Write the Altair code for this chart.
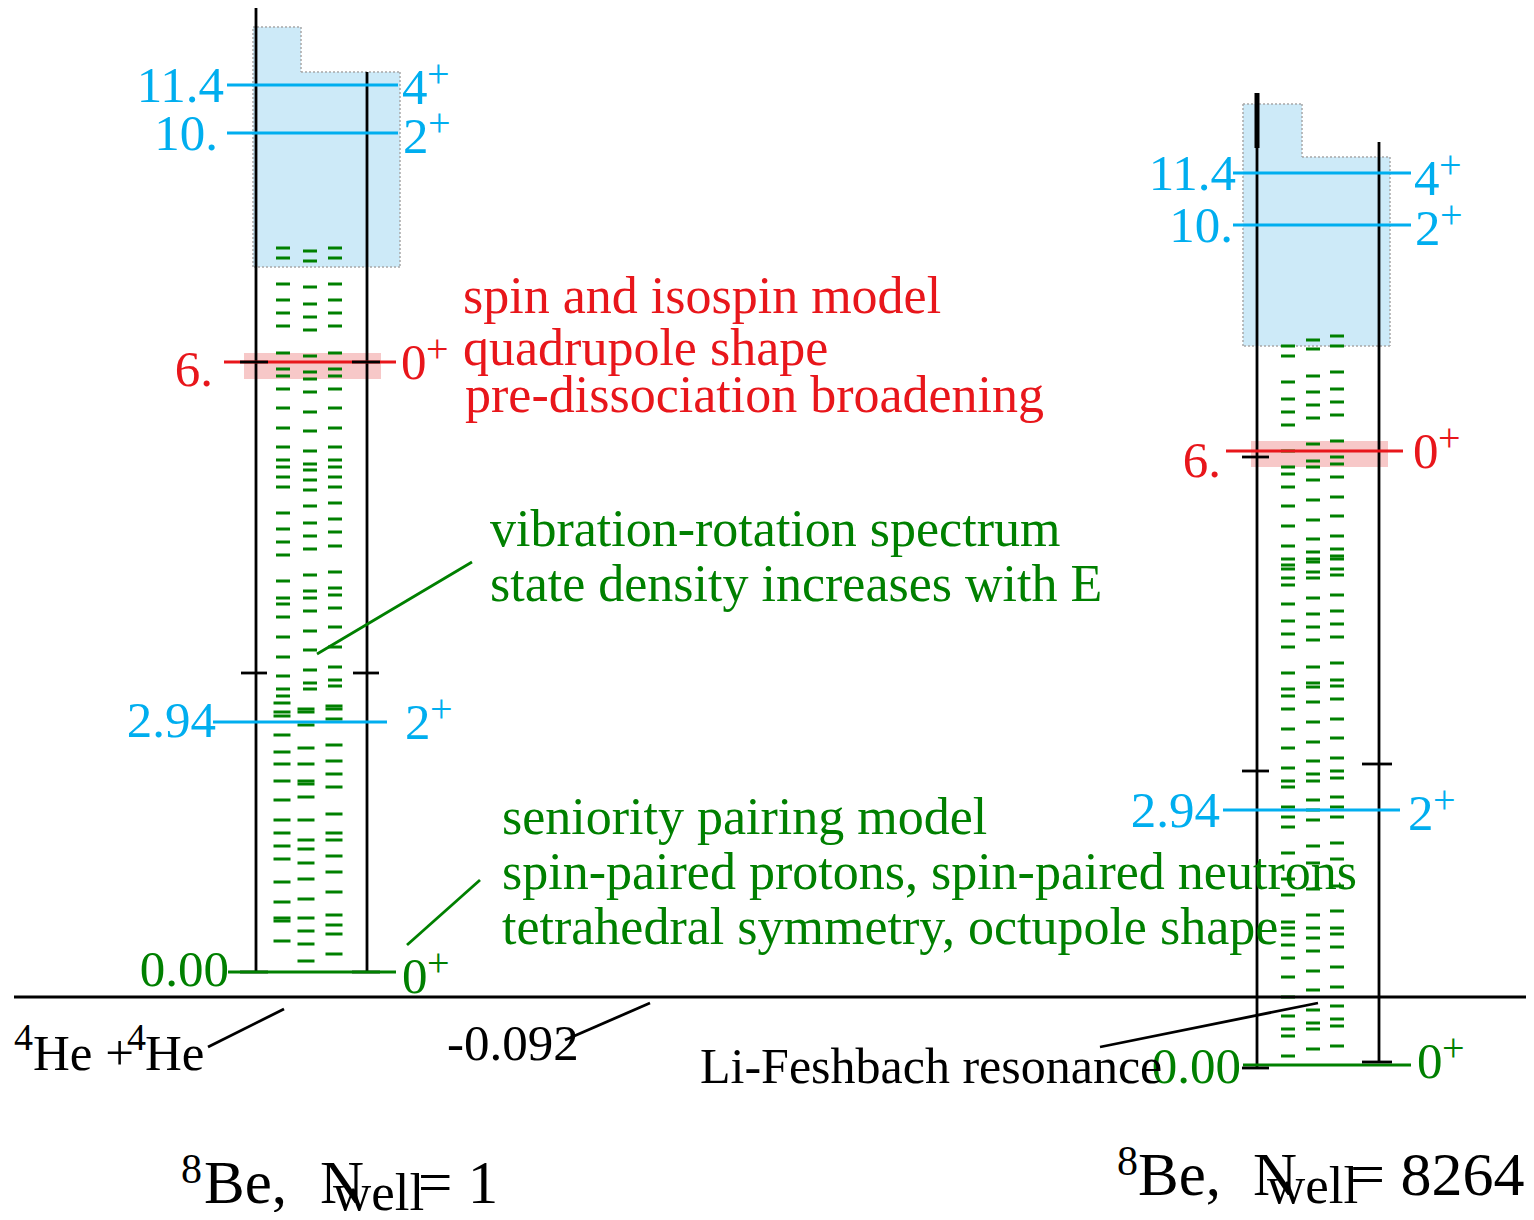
import altair as alt
import pandas as pd

W, H = 1518, 1204
FONT = "Liberation Serif"
BLUE = "#00aeef"
GREEN = "#008000"
RED = "#e8161b"
BLACK = "#000000"

# ---------------- data ----------------
# green state-density dashes (level positions, three columns per panel)
L_COL1 = [248, 258, 284, 300, 313, 326, 353, 369, 376, 389, 408, 428, 447, 460, 467, 477, 487, 513,
          529, 542, 555, 581, 598, 604, 617, 637, 657, 676, 689, 696, 703, 712, 716, 735, 752, 764,
          781, 800, 820, 833, 846, 859, 882, 902, 918, 921, 941]
L_COL2 = [251, 261, 287, 304, 317, 330, 356, 372, 379, 392, 412, 431, 451, 464, 470, 480, 490, 506,
          523, 536, 549, 575, 591, 598, 611, 631, 650, 670, 683, 689, 709, 712, 725, 748, 764, 781,
          784, 797, 820, 840, 849, 863, 879, 899, 918, 931, 944, 961]
L_COL3 = [248, 258, 284, 300, 313, 326, 353, 369, 376, 389, 408, 428, 447, 460, 467, 477, 487, 503,
          519, 532, 546, 572, 588, 595, 608, 627, 647, 667, 680, 686, 706, 709, 719, 745, 761, 774,
          787, 814, 833, 840, 856, 872, 892, 915, 925, 934, 954]
R_COL1 = [346, 356, 382, 399, 412, 425, 451, 467, 474, 487, 506, 526, 546, 559, 565, 569, 578, 585,
          604, 621, 634, 647, 673, 689, 696, 709, 729, 748, 768, 781, 787, 807, 817, 827, 853, 879,
          895, 922, 928, 935, 945, 958, 977, 997, 1016, 1029, 1036, 1056]
R_COL2 = [340, 349, 376, 392, 405, 418, 444, 461, 467, 480, 500, 520, 539, 552, 559, 562, 572, 578,
          598, 614, 627, 640, 667, 683, 687, 702, 722, 742, 761, 774, 781, 800, 810, 820, 846, 863,
          889, 915, 928, 938, 951, 971, 990, 1010, 1023, 1029, 1049]
R_COL3 = [336, 346, 372, 389, 402, 415, 441, 457, 464, 477, 497, 516, 536, 549, 556, 559, 569, 575,
          595, 611, 624, 637, 663, 680, 686, 699, 719, 738, 758, 771, 778, 797, 807, 817, 843, 859,
          886, 911, 928, 934, 947, 967, 987, 1006, 1019, 1026, 1046]

# level lines: (x_start, x_end, y, colour)
LEVEL_LINES = [
    (227, 398, 85, BLUE), (227, 398, 133, BLUE), (224, 396, 362, RED),
    (213, 387, 722, BLUE), (228, 396, 972, GREEN),
    (1233, 1411, 173, BLUE), (1233, 1411, 225, BLUE), (1226, 1403, 451, RED),
    (1223, 1400, 810, BLUE), (1243, 1411, 1065, GREEN),
]
# well walls: (x, y_top, y_bottom, width)
WALLS = [(256, 8, 972, 2.8), (367, 72, 972, 2.8), (1257, 148, 1068, 2.8),
         (1379, 142, 1062, 2.8), (1257, 93, 148, 5)]
# short black ticks: (x1, x2, y)
TICKS = [(240, 268, 362), (352, 380, 362), (241, 267, 673), (353, 379, 673),
         (1242, 1269, 457), (1242, 1269, 771), (1362, 1392, 764),
         (1242, 1269, 1068), (1362, 1392, 1062)]
TICKS_UNDER = [(240, 268, 972), (352, 380, 972)]
# pointer lines: (x1, y1, x2, y2, colour)
POINTERS = [(317, 654, 472, 562, GREEN), (407, 945, 480, 880, GREEN),
            (208, 1047, 284, 1009, BLACK), (565, 1040, 650, 1003, BLACK),
            (1100, 1047, 1318, 1003, BLACK), (14, 997, 1526, 997, BLACK)]
# continuum (hatched blue) regions: (x1, x2, y1, y2)
CONTINUUM = [(253, 301, 27, 267), (301, 400, 72, 267),
             (1243, 1302, 104, 346), (1302, 1390, 157, 346)]
CONT_OUTLINE = [(253, 27, 301, 27), (301, 27, 301, 72), (301, 72, 400, 72), (400, 72, 400, 267),
                (400, 267, 253, 267), (253, 267, 253, 27),
                (1243, 104, 1302, 104), (1302, 104, 1302, 157), (1302, 157, 1390, 157),
                (1390, 157, 1390, 346), (1390, 346, 1243, 346), (1243, 346, 1243, 104)]
# broadened 0+ bands: (x1, x2, y1, y2)
BANDS = [(244, 381, 353, 379), (1251, 1388, 441, 467)]

# energy labels (right aligned): (text, x, baseline, colour)
ENERGY_LABELS = [("11.4", 224, 102, BLUE), ("10.", 218, 150, BLUE), ("6.", 213, 386, RED),
                 ("2.94", 216, 737, BLUE), ("0.00", 229, 986, GREEN),
                 ("11.4", 1236, 190, BLUE), ("10.", 1233, 242, BLUE), ("6.", 1221, 477, RED),
                 ("2.94", 1220, 827, BLUE), ("0.00", 1241, 1083, GREEN)]
# spin-parity labels: (J, x, baseline, colour)
SPIN_LABELS = [("4", 402, 104, BLUE), ("2", 403, 153, BLUE), ("0", 401, 379, RED),
               ("2", 405, 739, BLUE), ("0", 402, 993, GREEN),
               ("4", 1414, 195, BLUE), ("2", 1415, 245, BLUE), ("0", 1413, 468, RED),
               ("2", 1408, 830, BLUE), ("0", 1417, 1078, GREEN)]
# other texts (left aligned): (text, x, baseline, colour, size)
TEXTS = [
    ("spin and isospin model", 463, 313, RED, 52),
    ("quadrupole shape", 463, 365, RED, 52),
    ("pre-dissociation broadening", 465, 412, RED, 52),
    ("vibration-rotation spectrum", 490, 546, GREEN, 52),
    ("state density increases with E", 490, 601, GREEN, 52),
    ("seniority pairing model", 502, 834, GREEN, 52),
    ("spin-paired protons, spin-paired neutrons", 502, 889, GREEN, 52),
    ("tetrahedral symmetry, octupole shape", 502, 944, GREEN, 52),
    ("4", 14, 1050, BLACK, 38), ("He +", 33, 1070, BLACK, 51),
    ("4", 127, 1050, BLACK, 38), ("He", 145, 1070, BLACK, 51),
    ("-0.092", 447, 1060, BLACK, 51),
    ("Li-Feshbach resonance", 700, 1083, BLACK, 50),
    ("8", 181, 1183, BLACK, 42), ("Be,", 204, 1203, BLACK, 61), ("N", 320, 1203, BLACK, 61),
    ("well", 333, 1210, BLACK, 53), ("= 1", 418, 1203, BLACK, 61),
    ("8", 1117, 1175, BLACK, 42), ("Be,", 1138, 1195, BLACK, 61), ("N", 1253, 1195, BLACK, 61),
    ("well", 1267, 1203, BLACK, 53), ("= 8264", 1350, 1195, BLACK, 62),
]

# ---------------- tables ----------------
XS = alt.Scale(domain=[8, 8 + W], nice=False, zero=False)
YS = alt.Scale(domain=[8, 8 + H], nice=False, zero=False, reverse=True)


def X(f="x"):
    return alt.X(f"{f}:Q", scale=XS, axis=None)


def Y(f="y"):
    return alt.Y(f"{f}:Q", scale=YS, axis=None)


dash_rows = []
for col, cx, half in [(L_COL1, 283, 7), (L_COL2, 310, 7), (L_COL3, 335, 7)]:
    for y in col:
        c = cx if y < 700 else {283: 282, 310: 306, 335: 334}[cx]
        h = half if y < 700 else 8.5
        dash_rows.append(dict(x=c - h, x2=c + h, y=y))
for col, cx in [(R_COL1, 1288), (R_COL2, 1313), (R_COL3, 1337)]:
    for y in col:
        dash_rows.append(dict(x=cx - 7, x2=cx + 7, y=y))
dashes = pd.DataFrame(dash_rows)

seg_rows = []
for x1, x2, y, c in LEVEL_LINES:
    seg_rows.append(dict(x=x1, x2=x2, y=y, y2=y, c=c, w=3, layer=2))
for x, y1, y2, w in WALLS:
    seg_rows.append(dict(x=x, x2=x, y=y1, y2=y2, c=BLACK, w=w, layer=1))
for x1, x2, y in TICKS:
    seg_rows.append(dict(x=x1, x2=x2, y=y, y2=y, c=BLACK, w=2.8, layer=3))
for x1, x2, y in TICKS_UNDER:
    seg_rows.append(dict(x=x1, x2=x2, y=y, y2=y, c=BLACK, w=2.8, layer=1))
for x1, y1, x2, y2, c in POINTERS:
    seg_rows.append(dict(x=x1, x2=x2, y=y1, y2=y2, c=c, w=2.8, layer=3))
segs = pd.DataFrame(seg_rows)

cont = pd.DataFrame(CONTINUUM, columns=["x", "x2", "y", "y2"])
outline = pd.DataFrame(CONT_OUTLINE, columns=["x", "y", "x2", "y2"])
bands = pd.DataFrame(BANDS, columns=["x", "x2", "y", "y2"])

elab = pd.DataFrame(ENERGY_LABELS, columns=["t", "x", "y", "c"])
spin_rows = []
for j, x, b, c in SPIN_LABELS:
    spin_rows.append(dict(t=j, x=x, y=b, c=c, s=51))
    spin_rows.append(dict(t="+", x=x + 25, y=b - 17, c=c, s=40))
texts = pd.DataFrame(TEXTS, columns=["t", "x", "y", "c", "s"])
texts = pd.concat([texts, pd.DataFrame(spin_rows)], ignore_index=True)

# ---------------- layers ----------------
cont_layer = alt.Chart(cont).mark_rect(color="#cdeaf8").encode(
    x=X(), x2="x2:Q", y=Y(), y2="y2:Q")
outline_layer = alt.Chart(outline).mark_rule(
    color="#a8a8a8", strokeWidth=1.5, strokeDash=[2, 2]).encode(
    x=X(), x2="x2:Q", y=Y(), y2="y2:Q")
band_layer = alt.Chart(bands).mark_rect(color="#f7c8c8").encode(
    x=X(), x2="x2:Q", y=Y(), y2="y2:Q")
dash_layer = alt.Chart(dashes).mark_rule(color=GREEN, strokeWidth=3).encode(
    x=X(), x2="x2:Q", y=Y())


def seg_layer(n):
    return alt.Chart(segs[segs.layer == n]).mark_rule().encode(
        x=X(), x2="x2:Q", y=Y(), y2="y2:Q",
        color=alt.Color("c:N", scale=None),
        strokeWidth=alt.StrokeWidth("w:Q", scale=None))


elab_layer = alt.Chart(elab).mark_text(
    font=FONT, fontSize=51, align="right", baseline="alphabetic").encode(
    x=X(), y=Y(), text="t:N", color=alt.Color("c:N", scale=None))
text_layer = alt.Chart(texts).mark_text(
    font=FONT, align="left", baseline="alphabetic").encode(
    x=X(), y=Y(), text="t:N", color=alt.Color("c:N", scale=None),
    size=alt.Size("s:Q", scale=None))

chart = alt.layer(
    cont_layer, band_layer, outline_layer, dash_layer, seg_layer(1),
    seg_layer(2), seg_layer(3), elab_layer, text_layer
).properties(
    width=W, height=H, padding=0,
    autosize=alt.AutoSizeParams(type="none")
).configure_view(stroke=None)

chart.save("out.html", embed_options={"renderer": "svg", "actions": False})
